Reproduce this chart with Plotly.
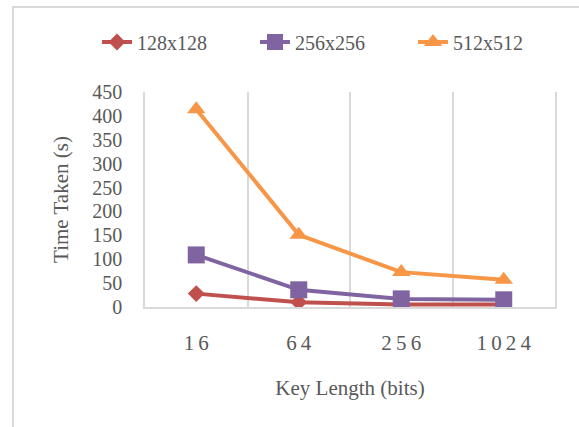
import plotly.graph_objects as go

categories = ["1\u20096", "6\u20094", "2\u20095\u20096", "1\u20090\u20092\u20094"]
s128 = [28, 10, 5, 5]
s256 = [109, 36, 17, 15]
s512 = [414, 151, 73, 57]
y_ticks = [0, 50, 100, 150, 200, 250, 300, 350, 400, 450]

W, H = 579, 427
L, R, T, B = 145, 24, 92, 120

fig = go.Figure()
series = [
    ("128x128", s128, "#C0504D", "diamond", 13),
    ("256x256", s256, "#8064A2", "square", 17),
    ("512x512", s512, "#F79646", "triangle-up", 16),
]
for name, vals, col, sym, sz in series:
    fig.add_trace(go.Scatter(
        x=categories, y=vals, name=name, mode="lines+markers",
        line=dict(color=col, width=4),
        marker=dict(symbol=sym, size=sz, color=col),
    ))

pw = W - L - R
ph = H - T - B
fig.add_shape(type="rect", xref="paper", yref="paper",
              x0=(13 - L) / pw, x1=(W + 5 - L) / pw,
              y0=-(H + 5 - T - ph) / ph, y1=(H - 7 - B) / ph,
              line=dict(color="#D9D9D9", width=2), layer="below")

font = "Liberation Serif, Times New Roman, serif"
fig.update_layout(
    width=W, height=H,
    margin=dict(l=L, r=R, t=T, b=B, autoexpand=False),
    paper_bgcolor="white", plot_bgcolor="white",
    font=dict(family=font, color="#595959", size=20),
    showlegend=True,
    legend=dict(orientation="h", x=(97 - L) / pw, xanchor="left",
                y=(H - B - 42) / ph, yref="paper", yanchor="middle",
                font=dict(size=20, color="#595959"), bgcolor="rgba(0,0,0,0)",
                entrywidth=113, entrywidthmode="pixels", tracegroupgap=0),
    xaxis=dict(
        type="category", tickson="boundaries", showgrid=True, gridcolor="#D9D9D9",
        gridwidth=1.5, showline=True, linecolor="#D9D9D9", linewidth=1.5,
        ticks="", tickfont=dict(size=21), ticklabelstandoff=16,
        title=dict(text="Key Length (bits)", font=dict(size=21), standoff=26),
        range=[-0.5, 3.5], zeroline=False,
    ),
    yaxis=dict(
        range=[0, 450], tickvals=y_ticks, showgrid=False, showline=True,
        mirror=True, linecolor="#D9D9D9", linewidth=1.5,
        zeroline=False, ticks="", tickfont=dict(size=20), ticklabelstandoff=17,
        title=dict(text="Time Taken (s)", font=dict(size=21), standoff=18),
    ),
)
fig.write_html("out.html", config={"displayModeBar": False},
               post_script="document.body.style.margin='0';document.body.style.overflow='hidden';")
